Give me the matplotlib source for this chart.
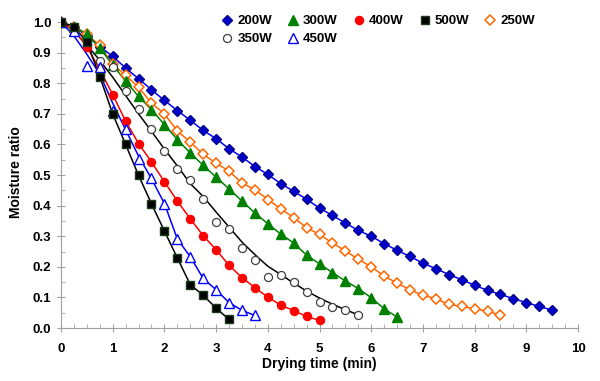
import numpy as np
import matplotlib
matplotlib.use("Agg")
import matplotlib.pyplot as plt
from matplotlib.lines import Line2D
from matplotlib.ticker import MultipleLocator, FormatStrFormatter

plt.rcParams['font.family'] = ['Liberation Sans', 'DejaVu Sans']
plt.rcParams['font.weight'] = 'bold'

# drying time (min), sampled every 0.25 min
t_200 = np.arange(0, 9.51, 0.25)
mr_200 = [1.0, 0.985, 0.955, 0.92, 0.888, 0.850, 0.815, 0.779, 0.744, 0.711,
          0.679, 0.646, 0.619, 0.586, 0.559, 0.528, 0.502, 0.472, 0.447, 0.421,
          0.392, 0.368, 0.343, 0.319, 0.300, 0.276, 0.254, 0.234, 0.212, 0.194,
          0.175, 0.158, 0.140, 0.123, 0.110, 0.096, 0.083, 0.071, 0.058]

t_250 = np.arange(0, 8.51, 0.25)
mr_250 = [1.0, 0.985, 0.96, 0.924, 0.862, 0.826, 0.787, 0.735, 0.700, 0.644,
          0.608, 0.568, 0.539, 0.513, 0.474, 0.452, 0.420, 0.390, 0.361, 0.328,
          0.306, 0.278, 0.252, 0.225, 0.200, 0.170, 0.147, 0.125, 0.107, 0.096,
          0.077, 0.071, 0.063, 0.055, 0.042]

t_300 = np.arange(0, 6.51, 0.25)
mr_300 = [1.0, 0.985, 0.962, 0.915, 0.860, 0.807, 0.757, 0.714, 0.665, 0.616,
          0.572, 0.532, 0.493, 0.455, 0.415, 0.376, 0.341, 0.307, 0.278, 0.238,
          0.210, 0.181, 0.154, 0.129, 0.099, 0.063, 0.036]

t_350 = np.arange(0, 5.76, 0.25)
mr_350 = [1.0, 0.985, 0.93, 0.874, 0.853, 0.774, 0.717, 0.652, 0.578, 0.521,
          0.483, 0.423, 0.346, 0.325, 0.261, 0.221, 0.167, 0.172, 0.150, 0.118,
          0.085, 0.069, 0.058, 0.041]
# fitted curve for 350W
fit_350 = [1.0, 0.97, 0.925, 0.875, 0.82, 0.76, 0.70, 0.643, 0.585, 0.53,
           0.472, 0.430, 0.379, 0.330, 0.281, 0.240, 0.202, 0.175, 0.147, 0.121,
           0.098, 0.078, 0.060, 0.043]

t_400 = np.arange(0, 5.01, 0.25)
mr_400 = [1.0, 0.975, 0.92, 0.845, 0.763, 0.676, 0.603, 0.543, 0.478, 0.415,
          0.357, 0.302, 0.256, 0.205, 0.165, 0.132, 0.101, 0.075, 0.057, 0.038,
          0.025]

t_450 = np.arange(0, 3.76, 0.25)
mr_450 = [1.0, 0.97, 0.857, 0.853, 0.710, 0.652, 0.554, 0.492, 0.407, 0.291,
          0.233, 0.162, 0.125, 0.083, 0.058, 0.041]
# fitted curve for 450W
fit_450 = [1.0, 0.955, 0.895, 0.83, 0.735, 0.648, 0.562, 0.488, 0.407, 0.291,
           0.233, 0.162, 0.125, 0.083, 0.058, 0.041]

t_500 = np.arange(0, 3.26, 0.25)
mr_500 = [1.0, 0.985, 0.935, 0.822, 0.700, 0.600, 0.499, 0.406, 0.317, 0.229,
          0.142, 0.107, 0.065, 0.028]

fig = plt.figure(figsize=(6, 3.81), dpi=100)
ax = fig.add_axes([0.1017, 0.139, 0.8617, 0.819])

ms = 5.8
lw = 1.1
styles = {
    '200W': dict(color='#0000FF', marker='D', ms=ms - 0.8, mfc='#0000CC', mec='#00008B', mew=1.0),
    '250W': dict(color='#FF6600', marker='D', ms=ms - 0.8, mfc='white', mec='#FF6600', mew=1.1),
    '300W': dict(color='#008000', marker='^', ms=ms + 0.7, mfc='#008000', mec='#008000', mew=1.0),
    '350W': dict(color='black', marker='o', ms=ms, mfc='white', mec='#404040', mew=0.9),
    '400W': dict(color='#FF0000', marker='o', ms=ms, mfc='#FF0000', mec='#FF0000', mew=1.0),
    '450W': dict(color='#0000FF', marker='^', ms=ms + 0.7, mfc='white', mec='#0000FF', mew=1.0),
    '500W': dict(color='black', marker='s', ms=ms - 0.5, mfc='black', mec='#1a3a1a', mew=1.0),
}

series = [
    ('200W', t_200, mr_200, mr_200),
    ('250W', t_250, mr_250, mr_250),
    ('300W', t_300, mr_300, mr_300),
    ('350W', t_350, mr_350, fit_350),
    ('400W', t_400, mr_400, mr_400),
    ('450W', t_450, mr_450, fit_450),
    ('500W', t_500, mr_500, mr_500),
]

for name, t, mr, fit in series:
    st = styles[name]
    ax.plot(t, fit, '-', color=st['color'], lw=lw, zorder=2)
    ax.plot(t, mr, ls='none', marker=st['marker'], ms=st['ms'], mfc=st['mfc'],
            mec=st['mec'], mew=st['mew'], zorder=3)

ax.set_xlim(0, 10)
ax.set_ylim(0, 1.02)
ax.xaxis.set_major_locator(MultipleLocator(1))
ax.xaxis.set_minor_locator(MultipleLocator(0.25))
ax.yaxis.set_major_locator(MultipleLocator(0.1))
ax.yaxis.set_minor_locator(MultipleLocator(0.05))
ax.yaxis.set_major_formatter(FormatStrFormatter('%.1f'))

for s in ['top', 'right']:
    ax.spines[s].set_visible(False)
for s in ['left', 'bottom']:
    ax.spines[s].set_color('#A0A0A0')
ax.tick_params(which='major', direction='inout', length=6, color='#A0A0A0',
               labelsize=9.5, pad=4)
ax.tick_params(which='minor', direction='in', length=3, color='#A0A0A0')
ax.tick_params(axis='x', which='major', pad=8)
for lab in ax.get_xticklabels() + ax.get_yticklabels():
    lab.set_fontweight('bold')

ax.set_xlabel('Drying time (min)', fontsize=10, fontweight='bold', labelpad=1)
ax.set_ylabel('Moisture ratio', fontsize=10, fontweight='bold', labelpad=7)

order = ['200W', '350W', '300W', '450W', '400W', '500W', '250W']
handles = []
for name in order:
    st = styles[name]
    handles.append(Line2D([], [], ls='none', marker=st['marker'], ms=st['ms'],
                          mfc=st['mfc'], mec=st['mec'], mew=st['mew'], label=name))
ax.legend(handles=handles, ncol=5, frameon=False, loc='upper left',
          bbox_to_anchor=(222 / 600, 1 - 15 / 381), bbox_transform=fig.transFigure,
          prop={'size': 9.5, 'weight': 'bold'}, handlelength=0.8, handletextpad=0.35,
          columnspacing=1.2, labelspacing=0.45, borderaxespad=0, borderpad=0)

fig.savefig('out.png', dpi=100)
